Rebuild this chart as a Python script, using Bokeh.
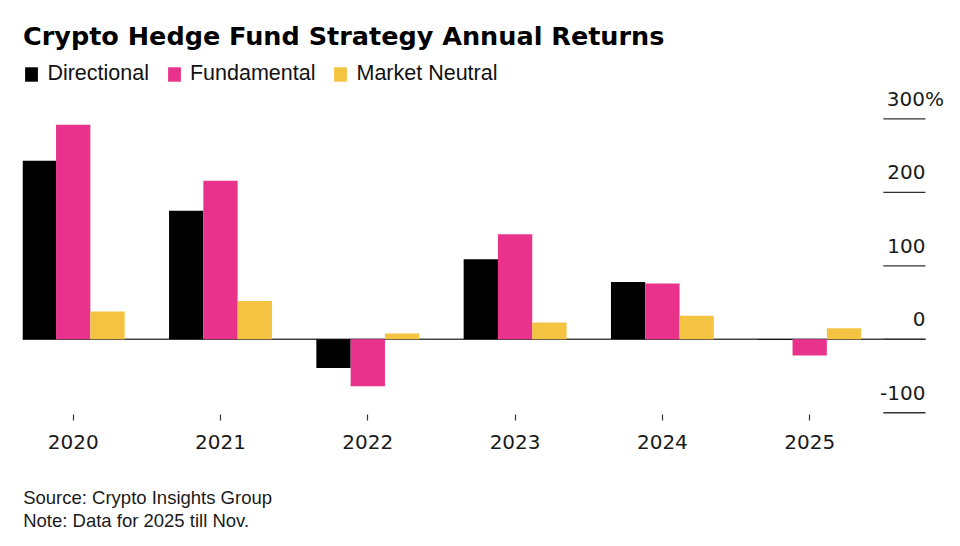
from bokeh.plotting import figure
from bokeh.models import Range1d, FixedTicker, Label, Legend, LegendItem, Title
from bokeh.core.properties import value
from bokeh.embed import file_html
from bokeh.resources import INLINE

# ---- data ----
years = ["2020", "2021", "2022", "2023", "2024", "2025"]
directional = [243, 175, -39, 109, 78, -1]
fundamental = [292, 216, -64, 143, 76, -22]
market_neutral = [38, 52, 8, 23, 32, 15]
series_names = ["Directional", "Fundamental", "Market Neutral"]
series_colors = ["#000000", "#E8328B", "#F5C342"]
y_ticks = [-100, 0, 100, 200, 300]
y_tick_labels = ["-100", "0", "100", "200", "300%"]
title_text = "Crypto Hedge Fund Strategy Annual Returns"
source_text = "Source: Crypto Insights Group"
note_text = "Note: Data for 2025 till Nov."

# ---- layout (figure pixel geometry) ----
W, H = 944, 530
FL, FR, FT, FB = 22, 944, 0, 414            # frame edges in figure px
STEP = 147.3                                # px per category
CX0 = 72.7                                  # first category centre
X0 = -(CX0 - FL) / STEP
X1 = X0 + (FR - FL) / STEP
ZERO = 338.8                                # zero line px
SCALE = 0.7345                              # px per percentage point
YT = (ZERO - FT) / SCALE
YB = (ZERO - FB) / SCALE


def dx(fx):
    return X0 + (fx - FL) / STEP


def dy(fy):
    return (ZERO - fy) / SCALE


BW = 34.3 / STEP
GRID_X0 = 5.5
GRID_X1 = dx(925)

p = figure(width=W, height=H, x_range=Range1d(X0, X1), y_range=Range1d(YB, YT),
           output_backend="svg", toolbar_location=None, y_axis_location=None,
           min_border_left=FL, min_border_right=W - FR, min_border_top=FT,
           min_border_bottom=H - FB, outline_line_color=None,
           background_fill_color="white", border_fill_color="white")
p.grid.visible = False

# zero line
p.segment(x0=[X0], y0=[0], x1=[GRID_X1], y1=[0], line_color="#444444", line_width=1.4)

# short gridlines on the right
p.segment(x0=[GRID_X0] * len(y_ticks), y0=y_ticks, x1=[GRID_X1] * len(y_ticks), y1=y_ticks,
          line_color="#333333", line_width=1.3)

# bars
renderers = []
for k, (vals, col) in enumerate(zip([directional, fundamental, market_neutral], series_colors)):
    off = (k - 1) * BW
    r = p.vbar(x=[i + off for i in range(len(years))], top=vals, bottom=0, width=BW,
               fill_color=col, line_color=None)
    renderers.append(r)

# y tick labels
p.text(x=[GRID_X1] * 4, y=y_ticks[:4], text=y_tick_labels[:4], text_align="right",
       text_baseline="alphabetic", y_offset=-20, text_font=value("DejaVu Sans"),
       text_font_size="20px", text_color="#1a1a1a")
p.text(x=[GRID_X1], y=y_ticks[4:], text=y_tick_labels[4:], text_align="right",
       text_baseline="alphabetic", y_offset=-20, x_offset=18.5, text_font=value("DejaVu Sans"),
       text_font_size="20px", text_color="#1a1a1a")

# x axis
ax = p.xaxis[0]
ax.ticker = FixedTicker(ticks=list(range(len(years))))
ax.major_label_overrides = {i: y for i, y in enumerate(years)}
ax.axis_line_color = None
ax.major_tick_in = 0
ax.major_tick_out = 6
ax.major_tick_line_color = "#333333"
ax.major_tick_line_width = 1.2
ax.minor_tick_line_color = None
ax.major_label_text_font = "DejaVu Sans"
ax.major_label_text_font_size = "20px"
ax.major_label_text_color = "#1a1a1a"
ax.major_label_standoff = 14

# legend (inside the frame, which reaches the top of the canvas)
legend = Legend(items=[LegendItem(label=n, renderers=[r]) for n, r in zip(series_names, renderers)],
                orientation="horizontal", location=(1.4, FB - 86),
                glyph_width=16, glyph_height=18, label_height=18, label_standoff=8,
                spacing=17, padding=0, margin=0, border_line_color=None,
                background_fill_alpha=0, label_text_font="Liberation Sans",
                label_text_font_size="21.5px", label_text_color="#111111")
p.add_layout(legend)

# title
p.add_layout(Label(x=dx(22.5), y=dy(35.3), text=title_text, text_font="DejaVu Sans",
                   text_font_size="25.5px", text_font_style="bold", text_color="#000000",
                   text_baseline="alphabetic"))

# footnotes below the axis (a small spacer title keeps them clear of the year labels)
p.add_layout(Title(text=" ", text_font_size="1px", standoff=30), "below")
p.add_layout(Title(text=source_text, align="left", offset=0.7, standoff=0,
                   text_font="Liberation Sans", text_font_size="18.5px",
                   text_font_style="normal", text_color="#1a1a1a"), "below")
p.add_layout(Title(text=note_text, align="left", offset=0.7, standoff=0,
                   text_font="Liberation Sans", text_font_size="18.5px",
                   text_font_style="normal", text_color="#1a1a1a"), "below")

open("out.html", "w").write(file_html(p, INLINE))
